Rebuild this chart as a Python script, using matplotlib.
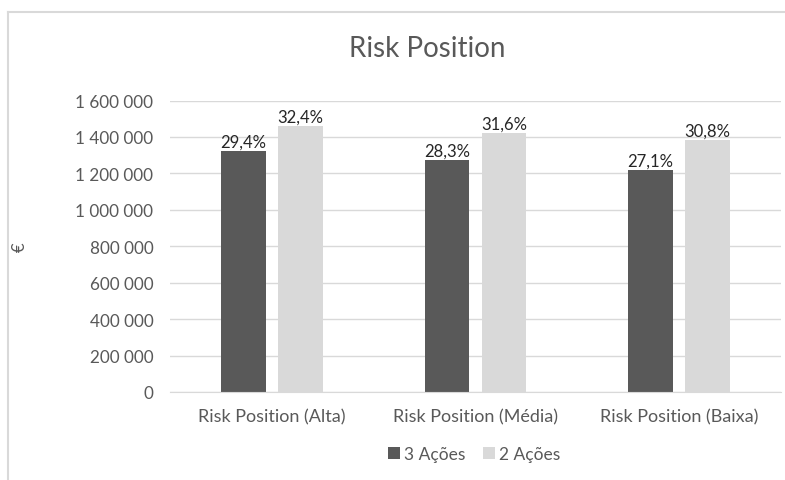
import matplotlib.pyplot as plt
import matplotlib.ticker as ticker
from matplotlib.lines import Line2D
import numpy as np

plt.rcParams['font.family'] = ['Lato', 'DejaVu Sans']

categories = ["Risk Position (Alta)", "Risk Position (Média)", "Risk Position (Baixa)"]
series_names = ["3 Ações", "2 Ações"]
values_3 = [1324000, 1271000, 1221000]
values_2 = [1460000, 1420000, 1385000]
labels_3 = ["29,4%", "28,3%", "27,1%"]
labels_2 = ["32,4%", "31,6%", "30,8%"]
colors = ["#595959", "#d9d9d9"]

W, H = 785, 481
fig = plt.figure(figsize=(W / 100, H / 100), dpi=100)
ax = fig.add_axes([170 / W, 1 - 393 / H, (781 - 170) / W, (393 - 101.5) / H])

x = np.arange(len(categories))
bw = 0.22
off = 0.14
b1 = ax.bar(x - off, values_3, bw, color=colors[0], label=series_names[0], zorder=3)
b2 = ax.bar(x + off, values_2, bw, color=colors[1], label=series_names[1], zorder=3)

# percentage labels above each bar
for bars, labs in ((b1, labels_3), (b2, labels_2)):
    for rect, lab in zip(bars, labs):
        ax.annotate(lab, (rect.get_x() + rect.get_width() / 2, rect.get_height()),
                    xytext=(0, 1), textcoords="offset points", ha="center", va="bottom",
                    fontsize=12, color="#262626")

ax.set_xlim(-0.5, 2.5)
ax.set_ylim(0, 1600000)
ax.yaxis.set_major_locator(ticker.MultipleLocator(200000))
ax.yaxis.set_major_formatter(ticker.FuncFormatter(lambda v, p: f"{int(v):,}".replace(",", " ")))
ax.set_xticks(x)
ax.set_xticklabels(categories)
ax.tick_params(axis="both", length=0, colors="#595959")
ax.tick_params(axis="x", pad=12, labelsize=13)
ax.tick_params(axis="y", pad=12, labelsize=12.3)
ax.grid(axis="y", color="#d9d9d9", lw=1, zorder=0)
for s in ("top", "right", "left"):
    ax.spines[s].set_visible(False)
ax.spines["bottom"].set_color("#d9d9d9")
ax.spines["bottom"].set_zorder(4)

ax.set_ylabel("€", color="#595959", fontsize=12, labelpad=34)
fig.text(427 / W, 1 - 49 / H, "Risk Position", ha="center", va="center", fontsize=20, color="#595959")

leg = fig.legend(loc="center", bbox_to_anchor=(474 / W, 1 - 455 / H), ncol=2, frameon=False,
                 fontsize=12.5, handlelength=0.7, handleheight=0.7, handletextpad=0.25, columnspacing=1.0)
for t in leg.get_texts():
    t.set_color("#595959")

# chart frame (left and top edges visible)
fig.add_artist(Line2D([7.5 / W, 7.5 / W], [0, 1 - 13 / H], color="#d9d9d9", lw=1.5))
fig.add_artist(Line2D([7.5 / W, 1], [1 - 13 / H, 1 - 13 / H], color="#d9d9d9", lw=1.5))

fig.savefig("out.png", dpi=100)
